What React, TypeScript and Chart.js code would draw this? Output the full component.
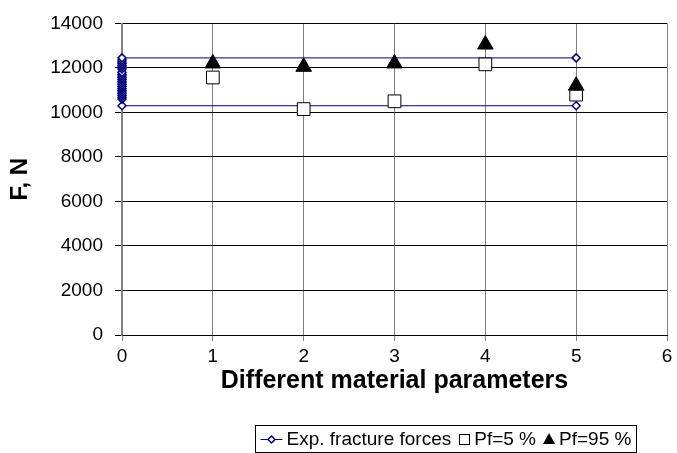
import React, { useEffect, useRef } from "react";
import { Chart, registerables } from "chart.js";

Chart.register(...registerables);

// ---- data ----
const materialParams = [1, 2, 3, 4, 5];
const pf5Forces = [11570, 10150, 10500, 12160, 10800];
const pf95Forces = [12200, 12050, 12200, 13050, 11200];

// experimental fracture forces (all at parameter 0), plus the min/max envelope drawn to parameter 5
const expForces = [
  10300, 10600, 10680, 10760, 10840, 10920, 11000, 11080, 11160, 11240, 11320,
  11400, 11480, 11560, 11640, 11720, 11800, 11950, 12030, 12110, 12190, 12270,
  12350, 12450,
];
const expParam = 0;
const envelopeParam = 5;

const xTicks = [0, 1, 2, 3, 4, 5, 6];
const yTicks = [0, 2000, 4000, 6000, 8000, 10000, 12000, 14000];

const xTitle = "Different material parameters";
const yTitle = "F, N";
const legendLabels = ["Exp. fracture forces", "Pf=5 %", "Pf=95 %"];

const FONT = '"Liberation Sans", Arial, Helvetica, sans-serif';
const NAVY = "#000080";

const legendPlugin = {
  id: "boxedLegend",
  afterDraw(chart: any) {
    const ctx = chart.ctx as CanvasRenderingContext2D;
    ctx.save();
    const fs = 19;
    ctx.font = `${fs}px ${FONT}`;
    const w1 = ctx.measureText(legendLabels[0]).width;
    const w2 = ctx.measureText(legendLabels[1]).width;
    const w3 = ctx.measureText(legendLabels[2]).width;
    const sample = 22, sym = 12, g1 = 4, g2 = 7, pad = 5;
    const total = pad + sample + g1 + w1 + g2 + sym + g1 + w2 + g2 + sym + g1 + w3 + pad;
    const cx = 445;
    const boxTop = 425, boxH = 27;
    const left = Math.round(cx - total / 2) + 0.5;
    ctx.strokeStyle = "#000";
    ctx.lineWidth = 1;
    ctx.strokeRect(left, boxTop + 0.5, Math.round(total), boxH);
    const cy = boxTop + boxH / 2 + 0.5;
    let x = left + pad;
    // line + diamond sample
    ctx.strokeStyle = NAVY;
    ctx.beginPath();
    ctx.moveTo(x, Math.round(cy) + 0.5);
    ctx.lineTo(x + sample, Math.round(cy) + 0.5);
    ctx.stroke();
    const dx = x + sample / 2, dy = Math.round(cy) + 0.5, r = 3.5;
    ctx.lineWidth = 1.5;
    ctx.beginPath();
    ctx.moveTo(dx, dy - r);
    ctx.lineTo(dx + r, dy);
    ctx.lineTo(dx, dy + r);
    ctx.lineTo(dx - r, dy);
    ctx.closePath();
    ctx.fillStyle = "#fff";
    ctx.fill();
    ctx.stroke();
    ctx.lineWidth = 1;
    x += sample + g1;
    ctx.fillStyle = "#000";
    ctx.textBaseline = "middle";
    ctx.textAlign = "left";
    ctx.fillText(legendLabels[0], x, cy + 1);
    x += w1 + g2;
    // square
    ctx.strokeStyle = "#000";
    ctx.strokeRect(Math.round(x) + 1.5, Math.round(cy) - 4.5, 10, 10);
    x += sym + g1;
    ctx.fillText(legendLabels[1], x, cy + 1);
    x += w2 + g2;
    // triangle
    ctx.beginPath();
    ctx.moveTo(x + sym / 2, cy - 6);
    ctx.lineTo(x + sym, cy + 5);
    ctx.lineTo(x, cy + 5);
    ctx.closePath();
    ctx.fillStyle = "#000";
    ctx.fill();
    x += sym + g1;
    ctx.fillText(legendLabels[2], x, cy + 1);
    ctx.restore();
  },
};

export default function App() {
  const ref = useRef<HTMLCanvasElement | null>(null);

  useEffect(() => {
    if (!ref.current) return;
    const minF = Math.min(...expForces);
    const maxF = Math.max(...expForces);
    const expData = [
      { x: envelopeParam, y: minF },
      ...expForces.map((y) => ({ x: expParam, y })),
      { x: envelopeParam, y: maxF },
    ];
    const chart = new Chart(ref.current, {
      type: "scatter",
      data: {
        datasets: [
          {
            label: legendLabels[2],
            data: materialParams.map((x, i) => ({ x, y: pf95Forces[i] })),
            pointStyle: "triangle",
            radius: 9,
            backgroundColor: "#000",
            borderColor: "#000",
            borderWidth: 1,
            showLine: false,
            clip: false,
            order: 1,
          } as any,
          {
            label: legendLabels[1],
            data: materialParams.map((x, i) => ({ x, y: pf5Forces[i] })),
            pointStyle: "rect",
            radius: 9,
            backgroundColor: "#fff",
            borderColor: "#000",
            borderWidth: 1,
            showLine: false,
            clip: false,
            order: 2,
          } as any,
          {
            label: legendLabels[0],
            data: expData,
            showLine: true,
            borderColor: NAVY,
            borderWidth: 1,
            pointStyle: "rectRot",
            radius: 4,
            pointBackgroundColor: "#fff",
            pointBorderColor: NAVY,
            pointBorderWidth: 1.5,
            clip: false,
            segment: {
              borderColor: (c: any) =>
                c.p0.parsed.x === c.p1.parsed.x ? "rgba(0,0,0,0)" : NAVY,
            },
            order: 3,
          } as any,
        ],
      },
      options: {
        responsive: false,
        animation: false,
        layout: { padding: { top: 18, right: 9, bottom: 57, left: 0 } },
        plugins: {
          legend: { display: false },
          tooltip: { enabled: false },
        },
        scales: {
          x: {
            type: "linear",
            min: xTicks[0],
            max: xTicks[xTicks.length - 1],
            afterBuildTicks: (s: any) => {
              s.ticks = xTicks.map((v) => ({ value: v }));
            },
            afterFit: (s: any) => {
              s.height = 61;
            },
            ticks: {
              color: "#000",
              font: { family: FONT, size: 19 },
              padding: 4,
              maxRotation: 0,
            },
            grid: {
              color: "#808080",
              tickColor: "#808080",
              tickLength: 6,
            },
            border: { color: "#000" },
            title: {
              display: true,
              text: xTitle,
              color: "#000",
              font: { family: FONT, size: 25, weight: "bold" },
              padding: { top: 0, bottom: 0 },
            },
          },
          y: {
            type: "linear",
            min: yTicks[0],
            max: yTicks[yTicks.length - 1],
            afterBuildTicks: (s: any) => {
              s.ticks = yTicks.map((v) => ({ value: v }));
            },
            afterFit: (s: any) => {
              s.width = 122;
            },
            ticks: {
              color: "#000",
              font: { family: FONT, size: 19 },
              padding: 12,
              callback: (v: any) => String(v),
            },
            grid: {
              color: "#000",
              tickColor: "#000",
              tickLength: 7,
            },
            border: { color: "#808080", width: 1.5 },
            title: {
              display: true,
              text: yTitle,
              color: "#000",
              font: { family: FONT, size: 24, weight: "bold" },
              padding: { top: 6, bottom: 0 },
            },
          },
        },
      },
      plugins: [legendPlugin],
    });
    return () => chart.destroy();
  }, []);

  return (
    <div style={{ position: "absolute", left: 0, top: 0, width: 677, height: 453, background: "#fff" }}>
      <canvas ref={ref} width={677} height={453} />
    </div>
  );
}
